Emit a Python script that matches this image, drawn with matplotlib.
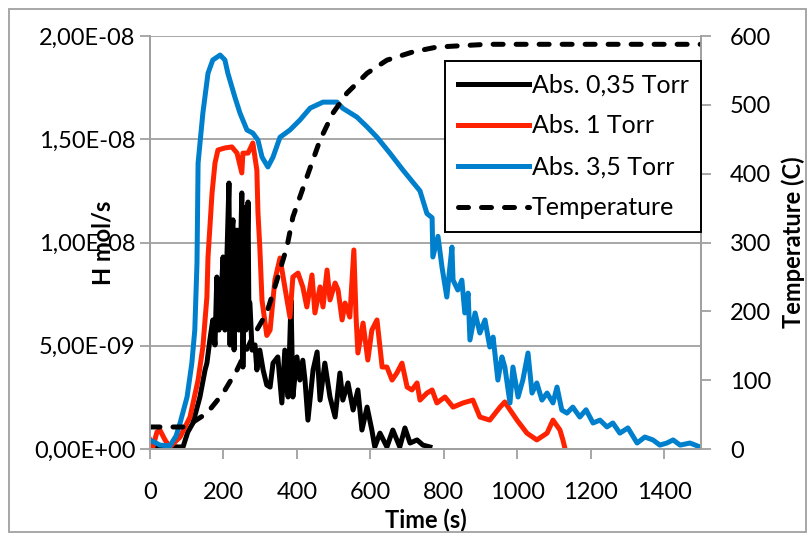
import matplotlib
matplotlib.use('Agg')
import matplotlib.pyplot as plt
from matplotlib.ticker import FuncFormatter
from matplotlib.patches import Rectangle

plt.rcParams['font.family'] = ['Lato', 'DejaVu Sans']

# time (s) and H flux (units of 1e-9 mol/s)
t_black = [0, 41, 76, 90, 103, 117, 136, 150, 155, 163, 171, 177, 182, 188, 193, 199, 204, 210,
           215, 218, 220, 226, 229, 234, 237, 242, 250, 253, 259, 261, 267, 269, 272, 278, 286,
           291, 299, 308, 318, 327, 335, 348, 359, 367, 376, 384, 389, 400, 408, 416, 422, 430,
           444, 455, 463, 476, 490, 504, 517, 525, 539, 553, 566, 577, 591, 604, 612, 626, 645,
           661, 680, 694, 708, 727, 743, 762]
h_black = [0.15, 0.15, 0.1, 0.1, 0.82, 1.26, 2.52, 3.83, 4.16, 5.28, 6.25, 5.04, 8.33, 5.76, 7.2,
           9.3, 5.76, 9.64, 12.88, 5.04, 10.1, 11.1, 4.8, 9.64, 10.6, 5.76, 12.4, 3.97, 11.7, 5.76,
           11.96, 7.2, 7.07, 4.79, 5.04, 3.83, 4.79, 3.83, 3.1, 3.0, 4.16, 4.46, 2.23, 4.79, 2.52,
           7.2, 2.52, 4.46, 3.34, 4.3, 3.34, 1.4, 3.83, 4.7, 2.37, 4.16, 2.52, 1.55, 3.68, 2.37,
           3.2, 1.89, 2.86, 0.92, 2.03, 0.92, 0.1, 0.77, 0.1, 0.92, 0.1, 1.02, 0.29, 0.44, 0.19,
           0.1]

t_red = [0, 8, 19, 27, 41, 54, 82, 109, 131, 144, 155, 158, 169, 177, 185, 204, 223, 237, 250,
         253, 267, 280, 291, 294, 299, 305, 318, 327, 340, 354, 367, 381, 389, 403, 416, 427, 441,
         449, 463, 471, 482, 490, 504, 512, 523, 531, 544, 555, 561, 566, 580, 593, 604, 618, 632,
         645, 659, 672, 686, 700, 713, 727, 735, 754, 768, 781, 803, 825, 852, 879, 898, 925, 953,
         966, 975, 999, 1026, 1053, 1081, 1097, 1116, 1124, 1130]
h_red = [0.44, 0.1, 0.82, 0.92, 0.44, 0.1, 0.58, 1.55, 3.34, 4.94, 7.36, 9.3, 12.4, 13.85, 14.48,
         14.58, 14.63, 14.33, 13.37, 14.33, 14.33, 14.82, 13.5, 11.43, 9.78, 7.2, 5.5, 5.76, 8.18,
         9.25, 7.85, 6.39, 8.33, 8.52, 7.85, 6.88, 8.43, 6.59, 7.85, 6.88, 8.67, 7.22, 8.04, 7.7,
         6.25, 7.07, 6.39, 9.64, 6.39, 4.65, 6.1, 4.31, 5.76, 6.25, 3.97, 3.97, 3.34, 3.68, 4.16,
         3.0, 2.86, 3.2, 2.37, 2.71, 2.86, 2.23, 2.52, 2.03, 2.23, 2.37, 1.55, 1.4, 2.03, 2.28,
         2.03, 1.4, 0.77, 0.44, 0.77, 1.4, 0.92, 0.44, 0.0]

t_blue = [0, 27, 54, 71, 82, 101, 114, 122, 128, 131, 144, 158, 171, 191, 204, 212, 231, 245,
          264, 280, 294, 305, 321, 335, 354, 381, 408, 436, 471, 509, 525, 563, 591, 618, 653,
          689, 735, 754, 768, 770, 784, 795, 808, 822, 825, 838, 849, 857, 866, 871, 885, 898,
          912, 925, 934, 947, 958, 966, 980, 988, 1002, 1015, 1029, 1040, 1053, 1067, 1081, 1097,
          1108, 1121, 1135, 1151, 1170, 1187, 1206, 1225, 1244, 1260, 1279, 1301, 1326, 1347,
          1369, 1388, 1407, 1424, 1443, 1470, 1497]
h_blue = [0.44, 0.19, 0.15, 0.63, 1.26, 2.52, 4.16, 5.76, 9.0, 13.85, 16.27, 18.2, 18.84, 19.08,
          18.84, 18.2, 17.05, 16.27, 15.45, 15.3, 14.96, 14.14, 13.66, 14.14, 15.1, 15.45, 15.93,
          16.51, 16.8, 16.8, 16.5, 16.08, 15.6, 15.1, 14.33, 13.5, 12.5, 11.4, 11.2, 9.3, 10.3,
          8.8, 7.36, 9.78, 8.18, 7.7, 8.18, 6.59, 7.55, 5.28, 6.59, 5.62, 6.25, 4.94, 5.42, 3.34,
          4.46, 3.97, 2.23, 3.97, 2.52, 3.34, 4.65, 2.71, 3.2, 2.37, 2.71, 2.23, 3.0, 1.89, 1.74,
          2.03, 1.55, 1.9, 1.26, 1.4, 1.07, 1.26, 0.77, 1.02, 0.29, 0.58, 0.44, 0.19, 0.29, 0.44,
          0.19, 0.29, 0.1]

# temperature (C)
t_temp = [0, 109, 117, 155, 199, 237, 280, 318, 346, 373, 389, 427, 463, 498, 536, 591, 645,
          716, 781, 917, 1500]
temp = [32, 32, 39, 52, 81, 115, 163, 198, 246, 294, 337, 395, 449, 488, 517, 546, 565, 577,
        584, 588, 588]

grey = '#a0a0a0'

fig = plt.figure(figsize=(8.08, 5.38), dpi=100)
ax = fig.add_axes([0.1856, 0.1654, 0.6820, 0.7676])
ax2 = ax.twinx()

l1, = ax.plot(t_black, [v * 1e-9 for v in h_black], color='black', lw=3.6, label='Abs. 0,35 Torr')
l2, = ax.plot(t_red, [v * 1e-9 for v in h_red], color='#ff2200', lw=3.6, label='Abs. 1 Torr')
l3, = ax.plot(t_blue, [v * 1e-9 for v in h_blue], color='#0080cc', lw=3.6, label='Abs. 3,5 Torr')
l4, = ax2.plot(t_temp, temp, color='black', lw=3.6, linestyle=(0, (2.0, 2.6)),
               dash_capstyle='round', label='Temperature')

ax.set_xlim(0, 1500)
ax.set_ylim(0, 2e-8)
ax2.set_ylim(0, 600)
ax.set_xticks(range(0, 1401, 200))
ax.set_yticks([0, 5e-9, 1e-8, 1.5e-8, 2e-8])
ax2.set_yticks(range(0, 601, 100))
ax.yaxis.set_major_formatter(FuncFormatter(lambda v, p: ('%.2E' % v).replace('.', ',')))

ax.grid(axis='y', color=grey, lw=1.3)
ax.set_axisbelow(True)
for a in (ax, ax2):
    for s in a.spines.values():
        s.set_color(grey)
        s.set_linewidth(1.3)
    a.spines['top'].set_visible(False)
    a.tick_params(colors='black', labelsize=17, length=7, width=1.3, direction='out')
    a.tick_params(axis='both', color=grey)
ax.tick_params(axis='x', pad=17)
ax2.tick_params(axis='y', pad=14)

ax.set_xlabel('Time (s)', fontsize=17, fontweight='bold')
ax.set_ylabel('H mol/s', fontsize=17, fontweight='bold')
ax2.set_ylabel('Temperature (C)', fontsize=17, fontweight='bold')
ax.xaxis.set_label_coords(0.501, -0.145)
ax.yaxis.set_label_coords(-0.065, 0.5)
ax2.yaxis.set_label_coords(1.145, 0.5)

leg = ax2.legend(handles=[l1, l2, l3, l4], loc='upper right', bbox_to_anchor=(1.0, 0.94),
                 fontsize=18, handlelength=2.85, handletextpad=0.1, fancybox=False, framealpha=1,
                 edgecolor='black', borderaxespad=0, labelspacing=0.72, borderpad=0.5)
leg.get_frame().set_linewidth(1.4)

fig.patches.append(Rectangle((0.011, 0.012), 0.986, 0.972, transform=fig.transFigure,
                             fill=False, edgecolor=grey, lw=1.3))

plt.savefig('out.png', dpi=100)
